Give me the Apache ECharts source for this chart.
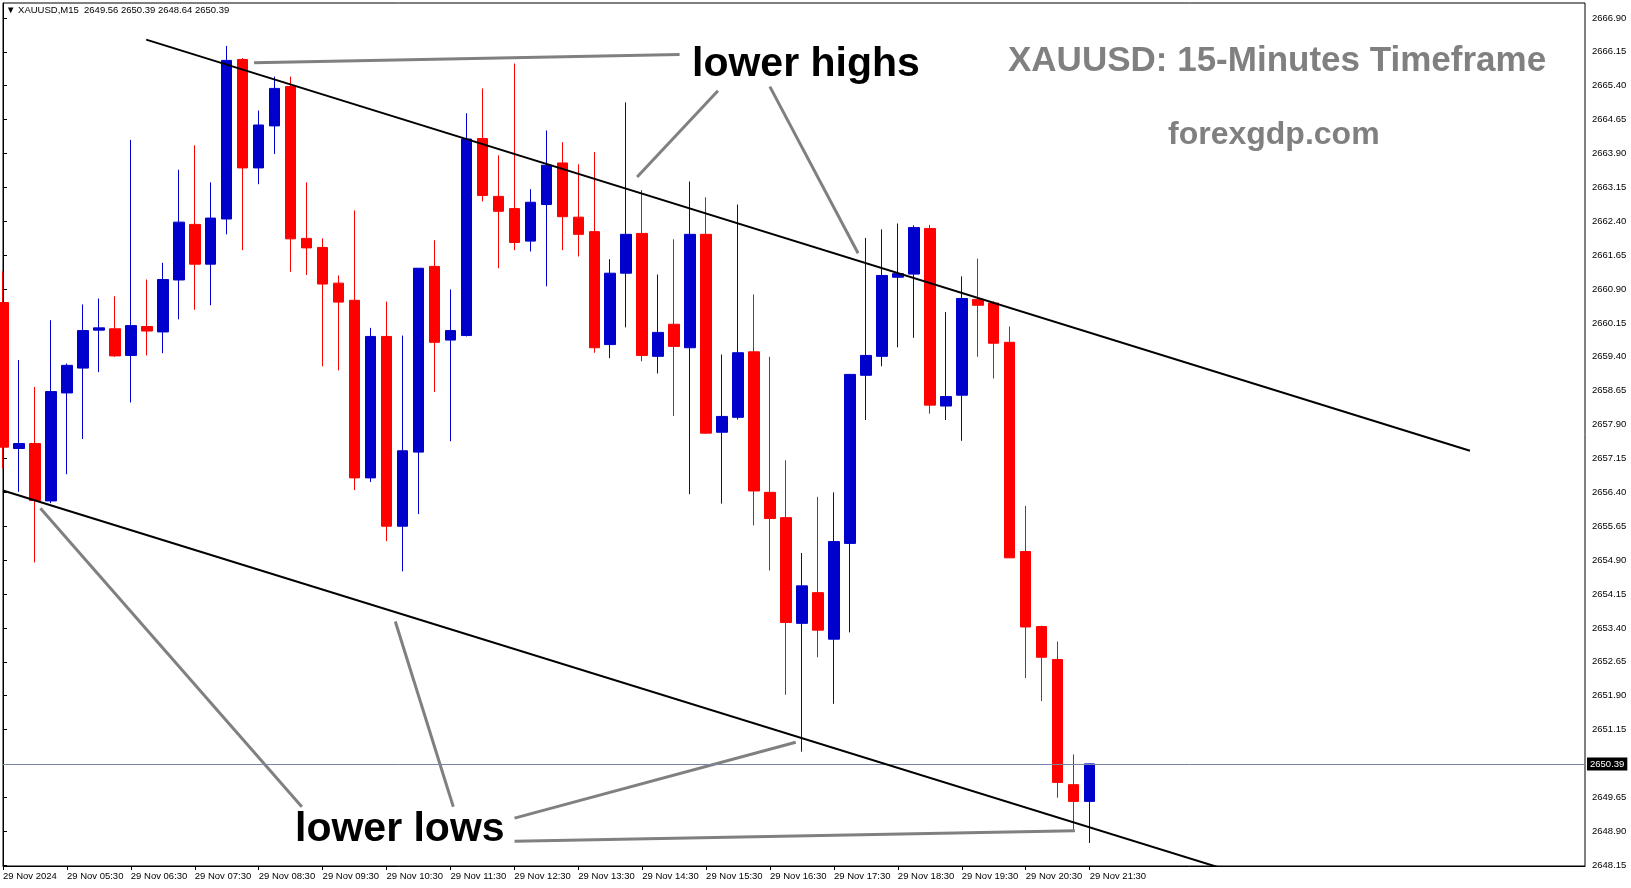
<!DOCTYPE html>
<html><head><meta charset="utf-8">
<script src="https://cdn.jsdelivr.net/npm/echarts@6/dist/echarts.min.js"></script>
<style>html,body{margin:0;padding:0;background:#fff}#c{width:1631px;height:888px}</style>
</head><body><div id="c"></div>
<script>
// ---------- data ----------
const times = ['04:30','04:45','05:00','05:15','05:30','05:45','06:00','06:15','06:30','06:45','07:00','07:15','07:30','07:45','08:00','08:15','08:30','08:45','09:00','09:15','09:30','09:45','10:00','10:15','10:30','10:45','11:00','11:15','11:30','11:45','12:00','12:15','12:30','12:45','13:00','13:15','13:30','13:45','14:00','14:15','14:30','14:45','15:00','15:15','15:30','15:45','16:00','16:15','16:30','16:45','17:00','17:15','17:30','17:45','18:00','18:15','18:30','18:45','19:00','19:15','19:30','19:45','20:00','20:15','20:30','20:45','21:00','21:15','21:30'];
const opens = [2660.60,2657.37,2657.48,2656.21,2658.60,2659.15,2659.99,2660.02,2659.43,2660.07,2659.95,2661.10,2662.33,2661.45,2662.45,2665.98,2663.58,2664.51,2665.38,2662.02,2661.82,2661.03,2660.65,2656.72,2659.85,2655.65,2657.29,2661.40,2659.77,2659.87,2664.23,2662.95,2662.68,2661.96,2662.77,2663.69,2662.49,2662.17,2659.67,2661.25,2662.13,2659.41,2660.12,2659.60,2662.11,2657.73,2658.06,2659.51,2656.40,2655.84,2653.50,2654.18,2653.15,2655.27,2658.99,2659.41,2661.16,2661.23,2662.24,2658.31,2658.55,2660.67,2660.59,2659.72,2655.09,2653.43,2652.70,2649.93,2649.56];
const highs = [2661.29,2659.33,2658.73,2660.21,2659.25,2660.56,2660.69,2660.74,2664.20,2661.11,2661.48,2663.54,2664.08,2663.26,2666.28,2666.01,2664.85,2665.60,2665.60,2663.26,2662.02,2661.20,2662.64,2660.04,2660.62,2659.87,2661.36,2661.98,2660.89,2664.79,2665.34,2663.86,2665.89,2663.11,2664.41,2664.15,2663.66,2663.93,2661.56,2665.03,2663.09,2661.22,2662.00,2663.28,2662.93,2659.45,2662.77,2660.78,2659.40,2657.11,2655.06,2656.30,2656.40,2659.02,2662.03,2662.22,2662.35,2662.31,2662.32,2660.39,2661.18,2661.57,2660.63,2660.07,2656.10,2653.45,2653.10,2650.60,2650.39];
const lows = [2656.93,2656.41,2654.85,2656.16,2656.80,2657.58,2659.06,2659.40,2658.39,2659.43,2659.48,2660.23,2660.44,2660.54,2662.11,2661.76,2663.22,2663.89,2661.28,2661.21,2659.19,2659.10,2656.45,2656.63,2655.32,2654.65,2655.92,2658.62,2657.53,2659.85,2662.84,2661.36,2661.76,2661.73,2660.96,2661.76,2661.62,2659.49,2659.37,2660.05,2659.30,2659.03,2658.09,2656.36,2657.69,2656.15,2658.01,2655.67,2654.67,2651.92,2650.66,2652.75,2651.72,2653.30,2658.00,2659.19,2659.61,2659.82,2658.14,2658.00,2657.54,2659.40,2658.92,2654.95,2652.29,2651.78,2649.64,2648.93,2648.64];
const closes = [2657.40,2657.48,2656.22,2658.63,2659.21,2659.98,2660.04,2659.42,2660.09,2659.97,2661.11,2662.38,2661.45,2662.47,2665.96,2663.58,2664.53,2665.34,2662.01,2661.81,2661.01,2660.61,2656.72,2659.85,2655.65,2657.32,2661.36,2659.72,2659.98,2664.22,2662.97,2662.62,2661.93,2662.82,2663.64,2662.50,2662.11,2659.60,2661.25,2662.11,2659.43,2659.94,2659.63,2662.11,2657.71,2658.08,2659.49,2656.43,2655.82,2653.52,2654.33,2653.35,2655.31,2659.01,2659.43,2661.20,2661.24,2662.26,2658.33,2658.52,2660.69,2660.54,2659.70,2654.95,2653.42,2652.75,2649.98,2649.56,2650.39];
const xTickLabels = ['29 Nov 2024','29 Nov 05:30','29 Nov 06:30','29 Nov 07:30','29 Nov 08:30','29 Nov 09:30','29 Nov 10:30','29 Nov 11:30','29 Nov 12:30','29 Nov 13:30','29 Nov 14:30','29 Nov 15:30','29 Nov 16:30','29 Nov 17:30','29 Nov 18:30','29 Nov 19:30','29 Nov 20:30','29 Nov 21:30'];
const yTickLabels = ['2648.15','2648.90','2649.65','2651.15','2651.90','2652.65','2653.40','2654.15','2654.90','2655.65','2656.40','2657.15','2657.90','2658.65','2659.40','2660.15','2660.90','2661.65','2662.40','2663.15','2663.90','2664.65','2665.40','2666.15','2666.90'];
const lastPrice = 2650.39;
const symbolName = 'XAUUSD,M15';
// trend lines: [bar index, price]
const upperTrend = [[8.96, 2666.42], [91.8, 2657.32]];
const lowerTrend = [[0, 2656.44], [80, 2647.67]];
// annotation connector lines: [bar index, price]
const highsConnectors = [
  [[15.71, 2665.91], [42.34, 2666.09]],
  [[44.74, 2665.29], [39.68, 2663.38]],
  [[47.99, 2665.38], [53.51, 2661.69]]
];
const lowsConnectors = [
  [[2.34, 2656.05], [18.70, 2649.44]],
  [[24.55, 2653.54], [28.18, 2649.44]],
  [[32.01, 2649.19], [49.61, 2650.87]],
  [[32.01, 2648.68], [67.08, 2648.91]]
];
const TOTAL_SLOTS = 100;

// ---------- chart ----------
const FONT = 'Liberation Sans';
const chart = echarts.init(document.getElementById('c'), null, {renderer: 'canvas'});
const catData = times.concat(Array(TOTAL_SLOTS - times.length).fill(''));
const ohlc = times.map((t, i) => [opens[i], closes[i], lows[i], highs[i]]);
const yVals = yTickLabels.map(Number);
const last = times.length - 1;
const showIdx = (i) => i % 4 === 0 && i <= last;

const connectorSeries = highsConnectors.concat(lowsConnectors).map(seg => ({
  type: 'line', xAxisIndex: 1, data: seg, symbol: 'none', silent: true, clip: true,
  lineStyle: {color: '#808080', width: 3}, z: 4
}));

const option = {
  animation: false,
  backgroundColor: '#ffffff',
  grid: {left: 3, right: 46, top: 3, bottom: 22, show: true, borderColor: '#000', borderWidth: 1},
  xAxis: [{
    type: 'category', data: catData, boundaryGap: false,
    axisLine: {show: true, lineStyle: {color: '#000', width: 1}},
    axisTick: {show: true, interval: showIdx, length: 4, lineStyle: {color: '#000'}},
    axisLabel: {interval: showIdx, formatter: (v, i) => xTickLabels[i / 4] || '', align: 'left', margin: 5,
      color: '#000', fontFamily: FONT, fontSize: 9.5},
    splitLine: {show: false}
  }, {
    type: 'value', min: 0, max: TOTAL_SLOTS - 1, show: false
  }],
  yAxis: {
    type: 'value', position: 'right', min: 2648.13, max: 2667.23,
    axisLine: {show: true, lineStyle: {color: '#000'}},
    axisTick: {show: true, length: 4, customValues: yVals, lineStyle: {color: '#000'}},
    axisLabel: {customValues: yVals, formatter: v => Number(v).toFixed(2), margin: 7, color: '#000', fontFamily: FONT, fontSize: 9.5},
    splitLine: {show: false}
  },
  series: [{
    type: 'candlestick', data: ohlc, barWidth: 11, silent: true,
    itemStyle: {color: '#0000CD', color0: '#FF0000', borderColor: '#0000CD', borderColor0: '#FF0000', borderWidth: 1},
    markLine: {
      symbol: 'none', silent: true, animation: false,
      lineStyle: {color: '#7886a3', width: 1, type: 'solid'},
      label: {position: 'end', formatter: () => lastPrice.toFixed(2), backgroundColor: '#000', color: '#fff',
        padding: [2, 3, 1, 3], fontFamily: FONT, fontSize: 9.5, distance: 2},
      data: [{yAxis: lastPrice}]
    }
  }, {
    type: 'line', xAxisIndex: 1, data: upperTrend, symbol: 'none', silent: true, clip: true,
    lineStyle: {color: '#000', width: 2}, z: 5
  }, {
    type: 'line', xAxisIndex: 1, data: lowerTrend, symbol: 'none', silent: true, clip: true,
    lineStyle: {color: '#000', width: 2}, z: 5
  }].concat(connectorSeries),
  graphic: [
    {type: 'text', x: 6, y: 10, z: 10, style: {text: '\u25BC ' + symbolName + '  ' + [opens[last], highs[last], lows[last], closes[last]].map(v => v.toFixed(2)).join(' '),
      fill: '#000', fontFamily: FONT, fontSize: 9.5, verticalAlign: 'middle', align: 'left'}},
    {type: 'text', x: 1008, y: 61, z: 10, style: {text: 'XAUUSD: 15-Minutes Timeframe', fill: '#808080', fontFamily: FONT, fontWeight: 'bold', fontSize: 35, verticalAlign: 'middle', align: 'left'}},
    {type: 'text', x: 1168, y: 135, z: 10, style: {text: 'forexgdp.com', fill: '#808080', fontFamily: FONT, fontWeight: 'bold', fontSize: 32, verticalAlign: 'middle', align: 'left'}},
    {type: 'text', x: 692, y: 65, z: 10, style: {text: 'lower highs', fill: '#000', fontFamily: FONT, fontWeight: 'bold', fontSize: 41, verticalAlign: 'middle', align: 'left'}},
    {type: 'text', x: 295, y: 830, z: 10, style: {text: 'lower lows', fill: '#000', fontFamily: FONT, fontWeight: 'bold', fontSize: 41, verticalAlign: 'middle', align: 'left'}}
  ]
};
chart.setOption(option);
</script>
</body></html>
